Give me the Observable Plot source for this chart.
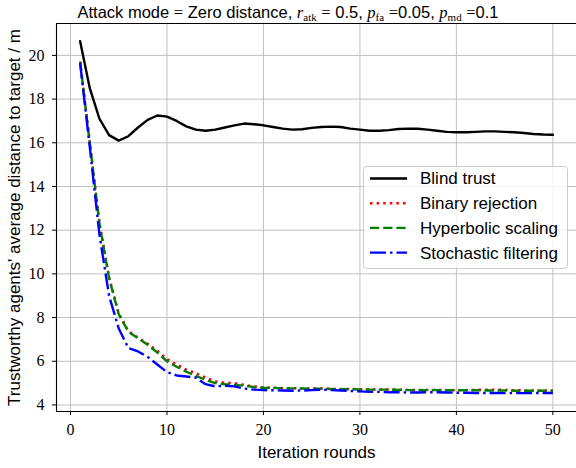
<!DOCTYPE html>
<html><head><meta charset="utf-8">
<script src="https://cdn.jsdelivr.net/npm/d3@7"></script>
<script src="https://cdn.jsdelivr.net/npm/@observablehq/plot@0.6"></script>
<style>
body{margin:0;background:#fff;}
#wrap{position:relative;width:576px;height:468px;overflow:hidden;background:#fff;}
#title{position:absolute;left:0;top:0;width:576px;height:21px;text-align:center;font-family:"Liberation Sans",Arial,sans-serif;font-size:16.5px;line-height:18px;padding-top:3px;box-sizing:border-box;white-space:nowrap;color:#000;}
#title .m{font-family:"Liberation Serif",serif;}
#title i{font-family:"Liberation Serif",serif;}
#title sub{font-family:"Liberation Serif",serif;font-size:11px;vertical-align:-3px;line-height:0;}
#chart{position:absolute;left:0;top:21px;}
#chart svg text{font-family:"Liberation Serif",serif;}
#chart svg text.lbl{font-family:"Liberation Sans",Arial,sans-serif;}
#legend{position:absolute;left:362px;top:165px;}
</style></head>
<body>
<div id="wrap">
  <div id="title">Attack mode <span class="m">=</span> Zero distance, <i>r</i><sub>atk</sub> <span class="m">=</span> 0.5, <i>p</i><sub>fa</sub> <span class="m">=</span>0.05, <i>p</i><sub>md</sub> <span class="m">=</span>0.1</div>
  <div id="chart"></div>
  <div id="legend"></div>
</div>
<script>
const rounds = Array.from({length: 50}, (_, i) => i + 1);
const seriesNames = ["Blind trust", "Binary rejection", "Hyperbolic scaling", "Stochastic filtering"];
const blindTrust = [20.65,18.5,17.1,16.35,16.1,16.3,16.7,17.05,17.25,17.2,
  17.0,16.75,16.6,16.55,16.6,16.7,16.8,16.88,16.85,16.8,
  16.72,16.65,16.6,16.62,16.68,16.72,16.74,16.72,16.65,16.6,
  16.55,16.55,16.58,16.63,16.65,16.64,16.6,16.55,16.5,16.48,
  16.48,16.5,16.52,16.52,16.5,16.48,16.45,16.4,16.38,16.37];
const binaryRejection = [19.72,16.05,12.35,9.85,8.2,7.38,7.08,6.8,6.48,6.1,
  5.85,5.62,5.45,5.25,5.08,5.02,5.0,4.92,4.85,4.8,
  4.79,4.77,4.77,4.76,4.75,4.75,4.74,4.73,4.73,4.72,
  4.71,4.71,4.71,4.7,4.69,4.69,4.69,4.69,4.68,4.68,
  4.68,4.69,4.7,4.7,4.69,4.67,4.67,4.66,4.66,4.66];
const hyperbolicScaling = [19.7,16.0,12.3,9.8,8.15,7.35,7.05,6.75,6.4,6.0,
  5.75,5.52,5.33,5.15,5.0,4.95,4.92,4.88,4.82,4.78,
  4.78,4.76,4.76,4.75,4.74,4.74,4.73,4.72,4.72,4.71,
  4.7,4.7,4.7,4.69,4.68,4.68,4.68,4.68,4.67,4.67,
  4.67,4.67,4.66,4.66,4.66,4.65,4.65,4.65,4.65,4.65];
const stochasticFiltering = [19.65,15.8,11.8,9.0,7.5,6.6,6.45,6.2,5.85,5.5,
  5.35,5.3,5.25,4.95,4.85,4.88,4.85,4.75,4.7,4.68,
  4.67,4.66,4.65,4.66,4.68,4.7,4.68,4.66,4.64,4.62,
  4.6,4.6,4.58,4.58,4.57,4.57,4.58,4.58,4.57,4.56,
  4.56,4.55,4.55,4.55,4.54,4.54,4.54,4.55,4.55,4.55];
const xTicks = [0,10,20,30,40,50];
const yTicks = [4,6,8,10,12,14,16,18,20];
const xLabel = "Iteration rounds";
const yLabel = "Trustworthy agents' average distance to target / m";
const xDomain = [-1.45, 52.45];
const yDomain = [3.7, 21.46];

const styles = [
  {stroke: "#000000", dash: null},
  {stroke: "#ff0000", dash: "2.5,4.1"},
  {stroke: "#008000", dash: "9.2,4"},
  {stroke: "#0000ff", dash: "16,4,2.5,4"}
];
const allSeries = [blindTrust, binaryRejection, hyperbolicScaling, stochasticFiltering];
const LW = 2.4;
const sans = "Liberation Sans, Arial, sans-serif";
const serif = "Liberation Serif, serif";

const lineMarks = allSeries.map((vals, k) => Plot.line(vals, {
  x: (d, i) => rounds[i], y: d => d,
  stroke: styles[k].stroke, strokeWidth: LW,
  strokeDasharray: styles[k].dash || undefined,
  strokeLinecap: styles[k].dash ? "butt" : "round",
  strokeLinejoin: "round"
}));

const chart = Plot.plot({
  width: 576, height: 447,
  marginLeft: 56, marginRight: 0, marginTop: 2, marginBottom: 57,
  style: {fontFamily: serif, fontSize: "16px", background: "transparent", color: "#000"},
  x: {domain: xDomain, ticks: xTicks},
  y: {domain: yDomain, ticks: yTicks},
  marks: [
    Plot.gridX(xTicks, {stroke: "#c0c0c0", strokeOpacity: 1, strokeWidth: 1}),
    Plot.gridY(yTicks, {stroke: "#c0c0c0", strokeOpacity: 1, strokeWidth: 1}),
    ...lineMarks,
    Plot.ruleX([xDomain[0]], {stroke: "#000", strokeWidth: 1.1}),
    Plot.ruleY([yDomain[0], yDomain[1]], {stroke: "#000", strokeWidth: 1.1}),
    Plot.axisX(xTicks, {tickSize: 4, tickPadding: 8, label: null, fontSize: 16, fontFamily: serif}),
    Plot.axisY(yTicks, {tickSize: 4, tickPadding: 8, label: null, fontSize: 16, fontFamily: serif}),
    Plot.text([xLabel], {frameAnchor: "bottom", dy: 41, text: d => d, fontFamily: sans, fontSize: 17, textAnchor: "middle", lineAnchor: "middle", className: "lbl"}),
    Plot.text([yLabel], {frameAnchor: "left", dx: -42, rotate: -90, text: d => d, fontFamily: sans, fontSize: 17, textAnchor: "middle", lineAnchor: "middle", className: "lbl"})
  ]
});
document.getElementById("chart").appendChild(chart);
d3.select(chart).selectAll("g.lbl text, text.lbl").style("font-family", sans);

// Legend
const lg = d3.select("#legend").append("svg").attr("width", 208).attr("height", 106);
lg.append("rect").attr("x", 1.5).attr("y", 1.5).attr("width", 204).attr("height", 102)
  .attr("rx", 3).attr("fill", "#fff").attr("fill-opacity", 0.8).attr("stroke", "#cccccc").attr("stroke-width", 1);
seriesNames.forEach((name, k) => {
  const cy = 13.5 + k * 24.7;
  lg.append("line").attr("x1", 8).attr("x2", 45).attr("y1", cy).attr("y2", cy)
    .attr("stroke", styles[k].stroke).attr("stroke-width", LW)
    .attr("stroke-dasharray", styles[k].dash)
    .attr("stroke-linecap", "butt");
  lg.append("text").attr("x", 58).attr("y", cy).attr("dy", "0.35em")
    .attr("font-family", sans).attr("font-size", 17).attr("fill", "#000").text(name);
});
</script>
</body></html>
